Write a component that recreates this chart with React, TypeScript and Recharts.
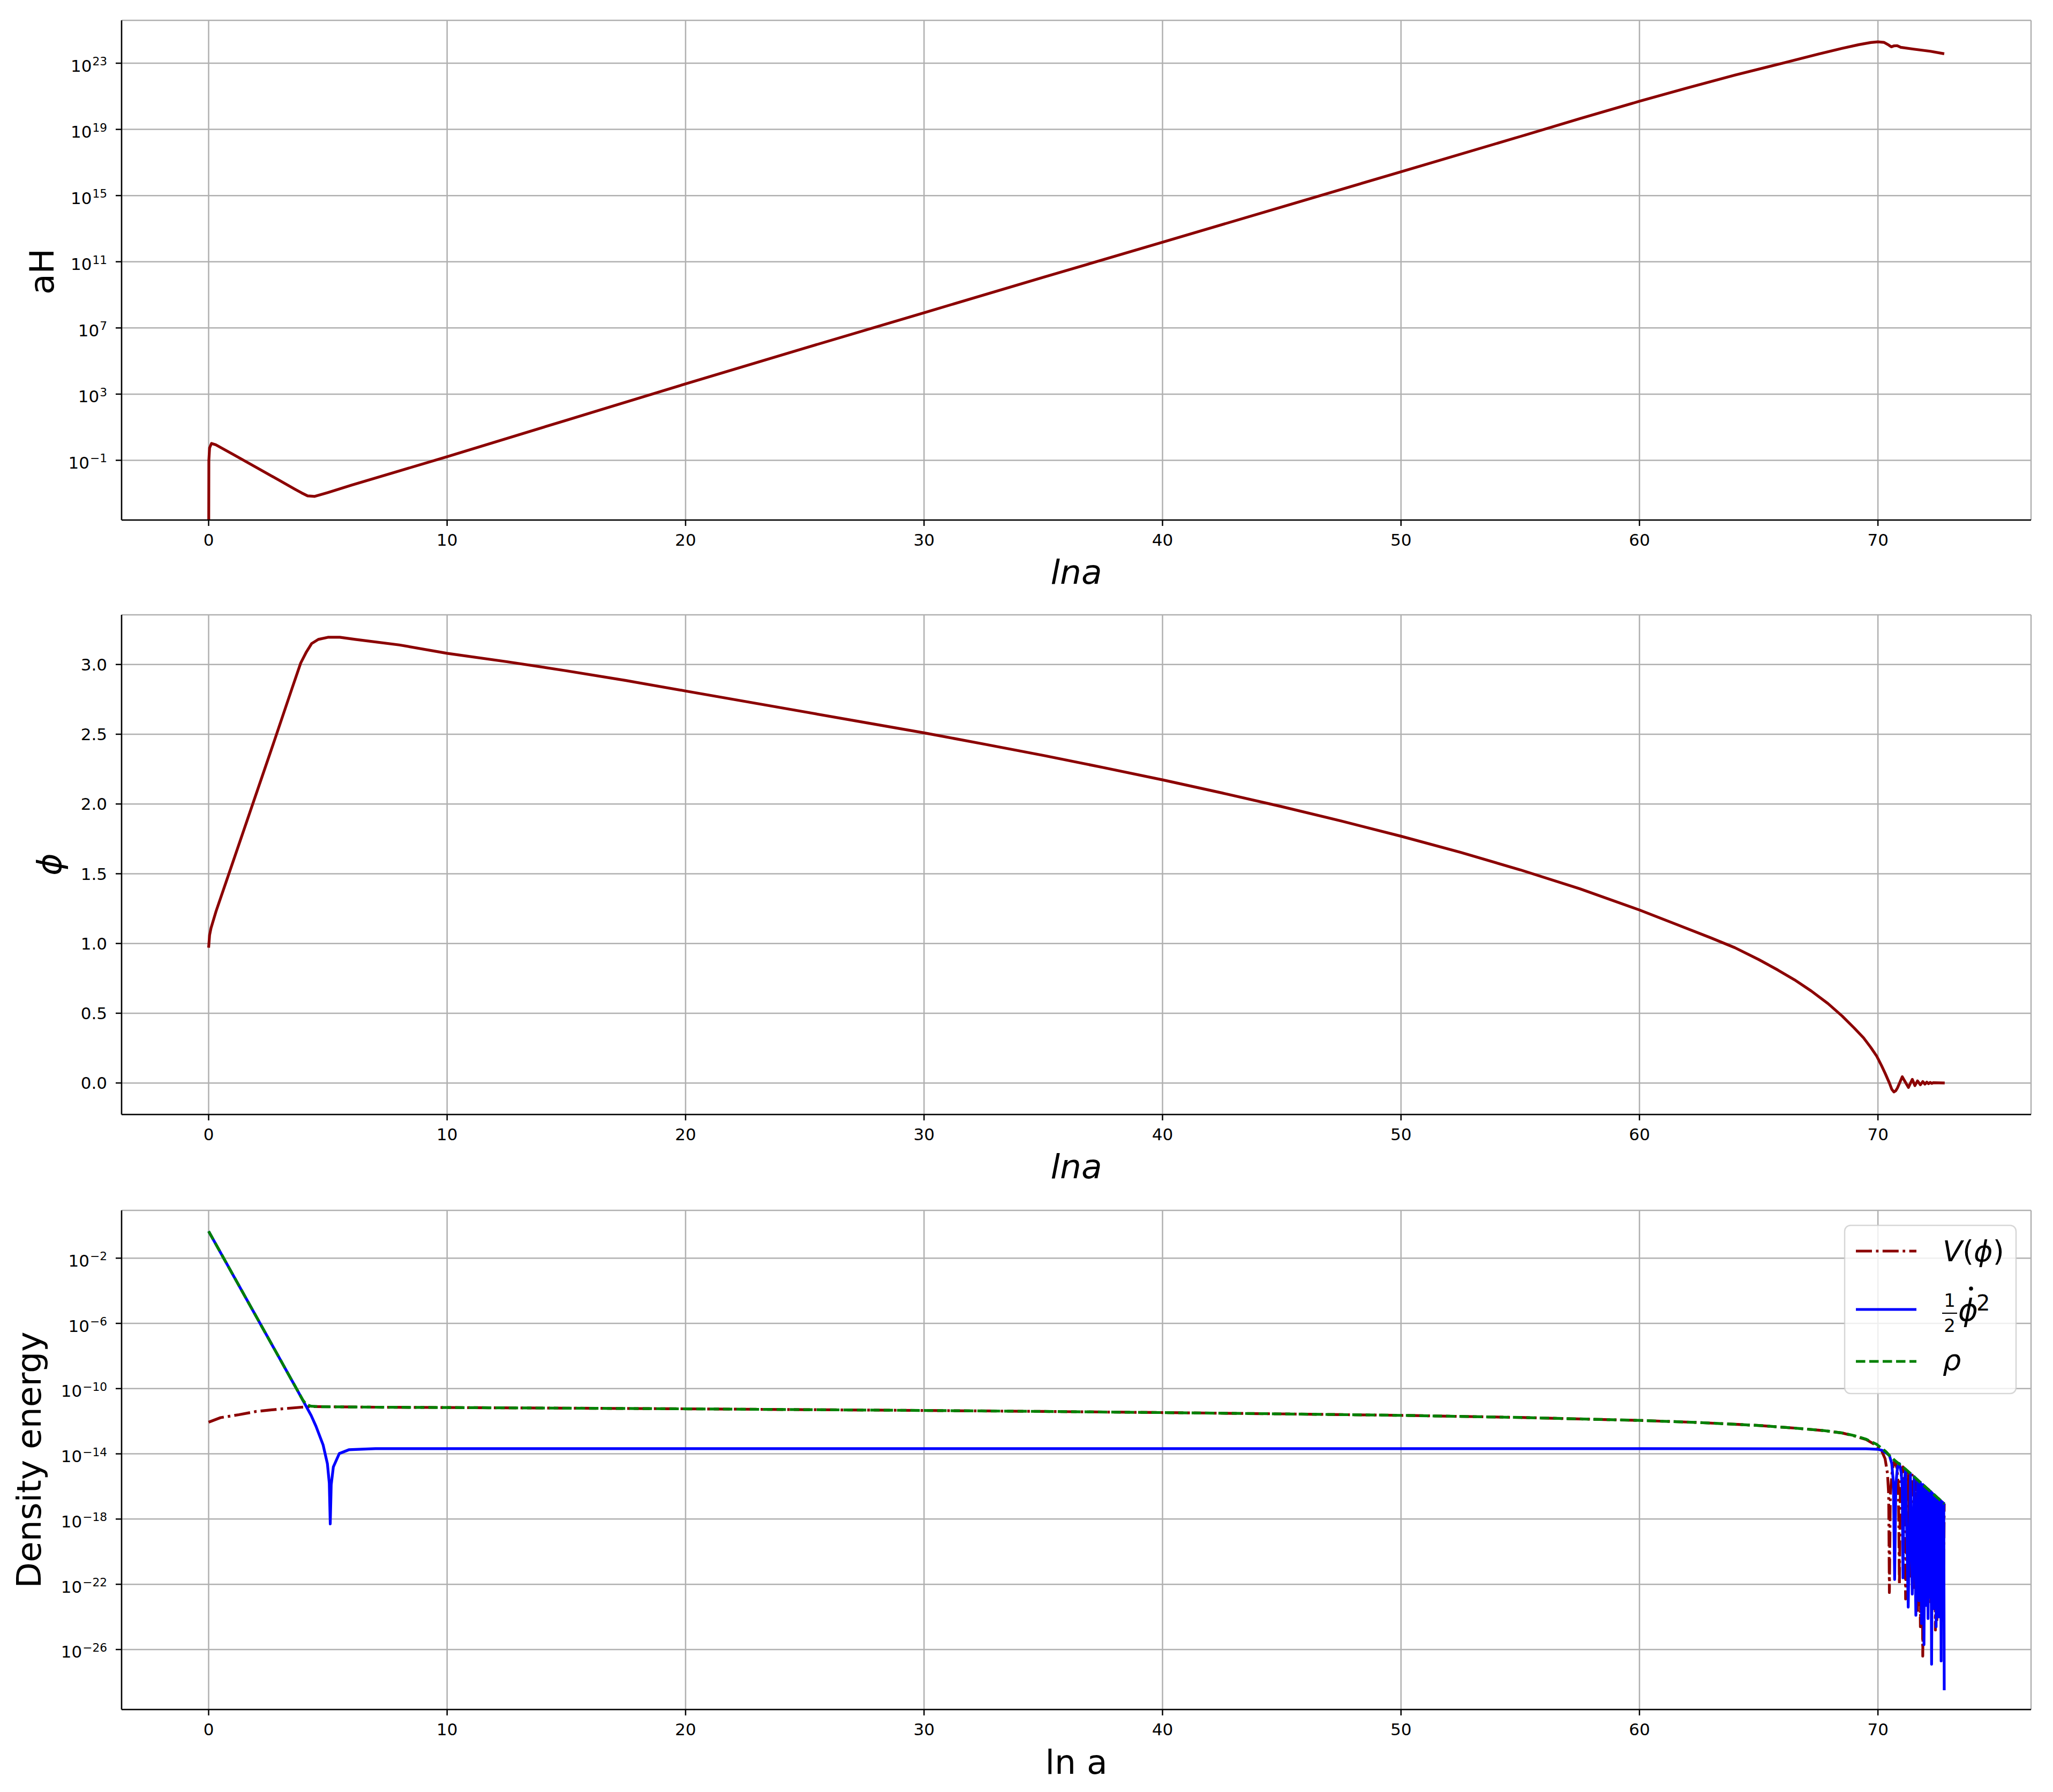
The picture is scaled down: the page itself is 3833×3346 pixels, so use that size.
import { LineChart, Line, XAxis, YAxis, CartesianGrid } from "recharts";

const FONT = "DejaVu Sans";
const INK = "#000000";
const DARK_RED = "#8b0000";
const BLUE = "#0000ff";
const GREEN = "#008000";
const GRID = "#b0b0b0";

const LW = 5.2;
const THIN = 2.5;
const DASH_DOT = "30 7.5 4.8 7.5";
const DASHED = "17.5 7.5";

const W = 3833;

// shared x axis (ln a)
const LNA_TICKS = [0, 10, 20, 30, 40, 50, 60, 70];
const LNA_DOMAIN = [-3.65, 76.42];

// ---- panel 1: aH (log10 values) ----
const aHLnA = [0, 0.01, 0.04, 0.12, 0.3, 1, 2, 3, 3.6, 3.9, 4.15, 4.45, 5, 6, 8, 10, 15, 20, 25, 30, 35, 40, 45, 50, 55, 57.5, 60, 62, 64, 66, 67.5, 68.5, 69.2, 69.7, 70.0, 70.25, 70.45, 70.56, 70.68, 70.81, 70.96, 71.5, 72.2, 72.78];
const aHLog = [-8, -1.0, -0.25, 0.02, -0.06, -0.62, -1.43, -2.24, -2.73, -2.97, -3.15, -3.18, -2.95, -2.5, -1.64, -0.78, 1.42, 3.62, 5.78, 7.92, 10.06, 12.18, 14.31, 16.44, 18.57, 19.65, 20.7, 21.5, 22.28, 23.0, 23.55, 23.9, 24.12, 24.25, 24.29, 24.26, 24.1, 23.99, 24.05, 24.06, 23.96, 23.85, 23.72, 23.57];
const aHTickExp = [-1, 3, 7, 11, 15, 19, 23];
const aHRangeExp = [-4.61, 25.59];

// ---- panel 2: phi ----
const phiLnA = [0, 0.04, 0.1, 0.31, 0.77, 1.8, 2.71, 3.5, 3.86, 4.1, 4.32, 4.6, 5.0, 5.5, 6.15, 8, 10, 12.5, 15, 17.5, 20, 22.5, 25, 27.5, 30, 32.5, 35, 37.5, 40, 42.5, 45, 47.5, 50, 52.5, 55, 57.5, 60, 61.5, 63, 64, 65, 65.8, 66.5, 67.2, 67.9, 68.5, 69, 69.4, 69.7, 69.95, 70.15, 70.3, 70.48, 70.58, 70.67, 70.75, 70.82, 71.02, 71.17, 71.28, 71.44, 71.55, 71.66, 71.78, 71.88, 71.97, 72.05, 72.12, 72.19, 72.26, 72.32, 72.8];
const phiVal = [0.97, 1.06, 1.11, 1.23, 1.46, 1.975, 2.43, 2.83, 3.01, 3.09, 3.15, 3.18, 3.195, 3.195, 3.18, 3.14, 3.08, 3.02, 2.955, 2.885, 2.81, 2.735, 2.66, 2.585, 2.51, 2.43, 2.348, 2.262, 2.173, 2.079, 1.981, 1.878, 1.769, 1.653, 1.528, 1.392, 1.24, 1.14, 1.04, 0.97, 0.885, 0.81, 0.74, 0.66, 0.57, 0.48, 0.395, 0.323, 0.255, 0.192, 0.125, 0.07, 0.0, -0.045, -0.064, -0.055, -0.035, 0.045, 0.0, -0.032, 0.026, -0.019, 0.015, -0.013, 0.01, -0.008, 0.006, -0.005, 0.004, -0.003, 0.002, 0];
const phiTicks = [0, 0.5, 1, 1.5, 2, 2.5, 3];
const phiRange = [-0.226, 3.356];

// ---- panel 3: energy densities (log10 values) ----
const rhoLnA = [0, 1, 2, 3, 3.7, 3.95, 4.1, 4.3, 4.7, 5.5, 7, 10, 15, 20, 25, 30, 35, 40, 45, 50, 55, 60, 62.5, 65, 66.5, 67.7, 68.5, 69, 69.5, 69.95, 70.15, 70.33, 70.48, 70.7, 71.05, 71.44, 71.83, 72.25, 72.78];
const rhoLog = [-0.35, -2.97, -5.59, -8.21, -10.05, -10.7, -10.98, -11.08, -11.11, -11.12, -11.14, -11.16, -11.2, -11.24, -11.29, -11.34, -11.4, -11.47, -11.55, -11.64, -11.77, -11.95, -12.08, -12.26, -12.42, -12.57, -12.72, -12.88, -13.1, -13.42, -13.65, -13.86, -14.1, -14.4, -14.8, -15.3, -15.82, -16.37, -17.06];

const vHeadLnA = [0, 0.5, 1.27, 2, 3, 3.9, 4.3, 5.5, 7, 10, 15, 20, 25, 30, 35, 40, 45, 50, 55, 60, 62.5, 65, 66.5, 67.7, 68.5, 69, 69.5, 69.95, 70.15, 70.3, 70.4, 70.45, 70.48, 70.52, 70.6, 70.7, 70.8, 70.86, 70.9, 70.94, 71.0, 71.05, 71.12, 71.16];
const vHeadLog = [-12.06, -11.78, -11.6, -11.4, -11.25, -11.14, -11.1, -11.12, -11.14, -11.16, -11.2, -11.24, -11.29, -11.34, -11.4, -11.47, -11.55, -11.64, -11.77, -11.95, -12.08, -12.26, -12.42, -12.57, -12.72, -12.9, -13.12, -13.5, -13.8, -14.3, -15.2, -16.5, -22.5, -16.5, -15.0, -14.4, -14.9, -16.0, -22.0, -16.0, -15.0, -14.8, -16.0, -22.9];

const kinHeadLnA = [0, 1, 2, 3, 3.7, 4.03, 4.3, 4.5, 4.8, 4.98, 5.06, 5.1, 5.14, 5.23, 5.48, 5.88, 7, 30, 60, 69.5, 70.0, 70.2, 70.35, 70.48, 70.58, 70.65, 70.7, 70.75, 70.82, 70.9, 70.98, 71.02, 71.05, 71.09, 71.16];
const kinHeadLog = [-0.35, -2.97, -5.59, -8.21, -10.05, -10.93, -11.65, -12.3, -13.45, -14.6, -15.8, -18.3, -15.9, -14.8, -13.98, -13.75, -13.68, -13.68, -13.68, -13.69, -13.72, -13.8, -13.95, -14.1, -14.6, -15.8, -21.7, -15.9, -14.8, -14.6, -15.2, -16.2, -21.6, -16.0, -14.95];

// dense oscillations at the end of inflation
const oscLnA = [71.27, 71.36, 71.44, 71.52, 71.59, 71.66, 71.72, 71.78, 71.83, 71.88, 71.93, 71.975, 72.02, 72.06, 72.1, 72.14, 72.18, 72.215, 72.25, 72.285, 72.32, 72.35, 72.38, 72.41, 72.44, 72.47, 72.5, 72.525, 72.55, 72.575, 72.6, 72.625, 72.65, 72.67, 72.695, 72.715, 72.74, 72.76, 72.78];
const vOscLog = [-15.1, -21.5, -15.3, -22.2, -15.5, -23.6, -15.67, -24.6, -15.82, -26.4, -15.95, -23.0, -16.07, -22.4, -16.17, -21.8, -16.28, -23.2, -16.37, -22.6, -16.46, -21.9, -16.54, -24.8, -16.62, -24.3, -16.7, -22.0, -16.76, -23.1, -16.83, -21.7, -16.9, -22.5, -16.96, -23.0, -17.02, -21.5, -17.06];
const kinOscLog = [-23.4, -15.2, -22.6, -15.4, -23.9, -15.6, -23.0, -15.75, -24.4, -15.88, -25.7, -16.0, -23.3, -16.12, -24.1, -16.22, -22.8, -16.32, -26.9, -16.42, -23.5, -16.5, -22.9, -16.58, -24.6, -16.66, -23.4, -16.73, -24.0, -16.8, -23.2, -16.86, -26.7, -16.92, -24.2, -16.98, -23.6, -17.04, -28.5];

const rhoTickExp = [-26, -22, -18, -14, -10, -6, -2];
const rhoRangeExp = [-29.68, 0.93];

const logPoints = (xs: number[], exps: number[]) => xs.map((x, i) => ({ x, y: Math.pow(10, exps[i]) }));
const points = (xs: number[], ys: number[]) => xs.map((x, i) => ({ x, y: ys[i] }));

const aHData = logPoints(aHLnA, aHLog);
const phiData = points(phiLnA, phiVal);
const rhoData = logPoints(rhoLnA, rhoLog);
const vData = logPoints([...vHeadLnA, ...oscLnA], [...vHeadLog, ...vOscLog]);
const kinData = logPoints([...kinHeadLnA, ...oscLnA], [...kinHeadLog, ...kinOscLog]);

function LnATick(props: any) {
  const { x, y, payload } = props;
  return (
    <text x={x} y={y + 37} textAnchor="middle" fontFamily={FONT} fontSize={31} fill={INK}>
      {payload.value}
    </text>
  );
}

function LogTick(props: any) {
  const { x, y, payload } = props;
  const e = Math.round(Math.log10(payload.value));
  const exp = e < 0 ? "\u2212" + -e : String(e);
  return (
    <text x={x} y={y + 15.5} textAnchor="end" fontFamily={FONT} fontSize={31} fill={INK}>
      10
      <tspan dx={1} dy={-11.5} fontSize={21.7}>{exp}</tspan>
    </text>
  );
}

function PhiTick(props: any) {
  const { x, y, payload } = props;
  return (
    <text x={x} y={y + 11.3} textAnchor="end" fontFamily={FONT} fontSize={31} fill={INK}>
      {payload.value.toFixed(1)}
    </text>
  );
}

const frame = () => [
  <CartesianGrid key="grid" stroke={GRID} strokeWidth={THIN} />,
  <XAxis
    key="xb"
    dataKey="x"
    type="number"
    domain={LNA_DOMAIN}
    ticks={LNA_TICKS}
    interval={0}
    allowDataOverflow
    height={100}
    tickSize={11}
    tickMargin={0}
    tickLine={{ stroke: INK, strokeWidth: THIN }}
    axisLine={{ stroke: INK, strokeWidth: THIN }}
    tick={LnATick}
  />,
  <XAxis
    key="xt"
    xAxisId="top"
    orientation="top"
    type="number"
    domain={LNA_DOMAIN}
    allowDataOverflow
    height={0}
    tick={false}
    tickLine={false}
    axisLine={{ stroke: INK, strokeWidth: THIN }}
  />,
  <YAxis
    key="yr"
    yAxisId="right"
    orientation="right"
    type="number"
    domain={[0, 1]}
    width={0}
    tick={false}
    tickLine={false}
    axisLine={{ stroke: INK, strokeWidth: THIN }}
  />,
];

const leftAxis = (props: any) => (
  <YAxis
    dataKey="y"
    type="number"
    interval={0}
    allowDataOverflow
    width={200}
    tickSize={11}
    tickMargin={16}
    tickLine={{ stroke: INK, strokeWidth: THIN }}
    axisLine={{ stroke: INK, strokeWidth: THIN }}
    {...props}
  />
);

export default function App() {
  return (
    <div style={{ position: "absolute", left: 0, top: 0, width: W, height: 3346, background: "#fff" }}>
      <div style={{ position: "absolute", left: 0, top: 0 }}>
        <LineChart width={W} height={1130} margin={{ top: 38, right: 41, bottom: 59, left: 27 }}>
          {frame()}
          {leftAxis({
            scale: "log",
            domain: aHRangeExp.map((e) => Math.pow(10, e)),
            ticks: aHTickExp.map((e) => Math.pow(10, e)),
            tick: LogTick,
          })}
          <Line data={aHData} dataKey="y" stroke={DARK_RED} strokeWidth={LW} strokeLinejoin="round" dot={false} isAnimationActive={false} />
        </LineChart>
      </div>

      <div style={{ position: "absolute", left: 0, top: 1130 }}>
        <LineChart width={W} height={1100} margin={{ top: 18, right: 41, bottom: 49, left: 27 }}>
          {frame()}
          {leftAxis({ domain: phiRange, ticks: phiTicks, tick: PhiTick })}
          <Line data={phiData} dataKey="y" stroke={DARK_RED} strokeWidth={LW} strokeLinejoin="round" dot={false} isAnimationActive={false} />
        </LineChart>
      </div>

      <div style={{ position: "absolute", left: 0, top: 2230 }}>
        <LineChart width={W} height={1116} margin={{ top: 30, right: 41, bottom: 54, left: 27 }}>
          {frame()}
          {leftAxis({
            scale: "log",
            domain: rhoRangeExp.map((e) => Math.pow(10, e)),
            ticks: rhoTickExp.map((e) => Math.pow(10, e)),
            tick: LogTick,
          })}
          <Line data={vData} dataKey="y" stroke={DARK_RED} strokeWidth={LW} strokeDasharray={DASH_DOT} strokeLinejoin="round" dot={false} isAnimationActive={false} />
          <Line data={kinData} dataKey="y" stroke={BLUE} strokeWidth={LW} strokeLinejoin="round" dot={false} isAnimationActive={false} />
          <Line data={rhoData} dataKey="y" stroke={GREEN} strokeWidth={LW} strokeDasharray={DASHED} strokeLinejoin="round" dot={false} isAnimationActive={false} />
        </LineChart>
      </div>

      <svg
        width={W}
        height={3346}
        style={{ position: "absolute", left: 0, top: 0, pointerEvents: "none" }}
        fontFamily={FONT}
        fill={INK}
      >
        {/* axis labels */}
        <text x={2009.5} y={1090} textAnchor="middle" fontSize={63} fontStyle="italic">lna</text>
        <text x={2009.5} y={2200} textAnchor="middle" fontSize={63} fontStyle="italic">lna</text>
        <text x={2009.5} y={3312} textAnchor="middle" fontSize={63}>ln a</text>
        <text x={100} y={507} textAnchor="middle" fontSize={63} transform="rotate(-90 100 507)">aH</text>
        <text x={114} y={1614} textAnchor="middle" fontSize={63} fontStyle="italic" transform="rotate(-90 114 1614)">ϕ</text>
        <text x={76} y={2726} textAnchor="middle" fontSize={63} transform="rotate(-90 76 2726)">Density energy</text>

        {/* legend */}
        <rect x={3444} y={2288} width={320} height={314} rx={11} fill="#ffffff" fillOpacity={0.8} stroke="#cccccc" strokeOpacity={0.8} strokeWidth={THIN} />
        <line x1={3465} x2={3578} y1={2336} y2={2336} stroke={DARK_RED} strokeWidth={LW} strokeDasharray={DASH_DOT} />
        <line x1={3465} x2={3578} y1={2445} y2={2445} stroke={BLUE} strokeWidth={LW} />
        <line x1={3465} x2={3578} y1={2542} y2={2542} stroke={GREEN} strokeWidth={LW} strokeDasharray={DASHED} />
        <text x={3627} y={2355} fontSize={54}>
          <tspan fontStyle="italic">V</tspan>(<tspan fontStyle="italic">ϕ</tspan>)
        </text>
        <text x={3640} y={2440} textAnchor="middle" fontSize={34}>1</text>
        <line x1={3626} x2={3654} y1={2452} y2={2452} stroke={INK} strokeWidth={2.2} />
        <text x={3640} y={2487} textAnchor="middle" fontSize={34}>2</text>
        <text x={3656} y={2466} fontSize={56} fontStyle="italic">ϕ</text>
        <circle cx={3680} cy={2406} r={3.8} fill={INK} />
        <text x={3690} y={2447} fontSize={40}>2</text>
        <text x={3627} y={2558} fontSize={54} fontStyle="italic">ρ</text>
      </svg>
    </div>
  );
}
